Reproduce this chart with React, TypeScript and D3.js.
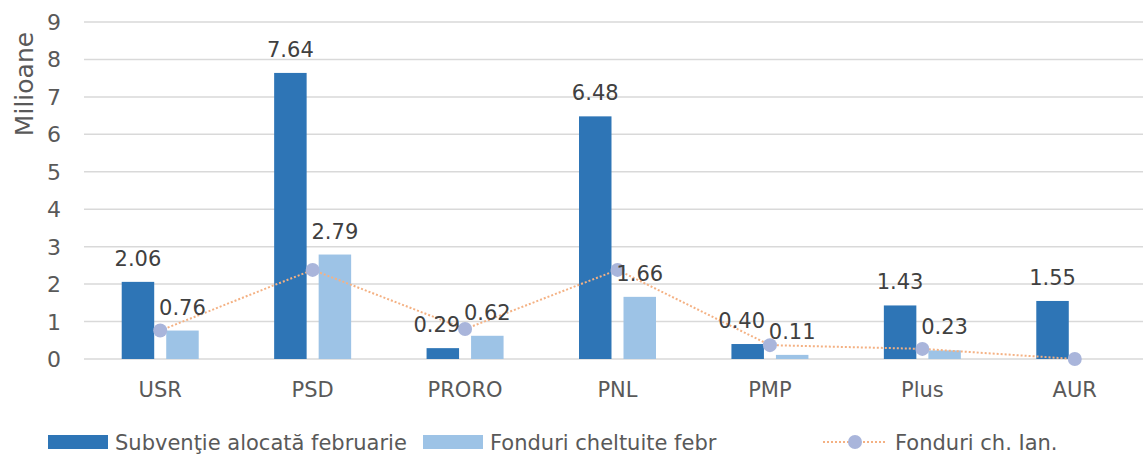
import React, { useRef, useEffect } from 'react';
import * as d3 from 'd3';

// party names on the x axis
const categories = ["USR", "PSD", "PRORO", "PNL", "PMP", "Plus", "AUR"];
// millions of lei
const subventie = [2.06, 7.64, 0.29, 6.48, 0.40, 1.43, 1.55];
const cheltuite = [0.76, 2.79, 0.62, 1.66, 0.11, 0.23, null];
const fonduriIan = [0.76, 2.38, 0.80, 2.38, 0.37, 0.27, 0.0];
const yTicks = [0, 1, 2, 3, 4, 5, 6, 7, 8, 9];

const seriesNames = ["Subvenţie alocată februarie", "Fonduri cheltuite febr", "Fonduri ch. Ian."];
const colors = ["#2E75B6", "#9DC3E6", "#F4B183", "#A9B5DB"];

const W = 1143, H = 454;
const FONT = "'DejaVu Sans', Verdana, sans-serif";

const App = () => {
    const ref = useRef<SVGSVGElement | null>(null);

    useEffect(() => {
        const svg = d3.select(ref.current);
        svg.selectAll("*").remove();

        const x = d3.scaleBand().domain(categories).range([84, 1151]).padding(0);
        const y = d3.scaleLinear().domain([0, 9]).range([359, 22]);
        // two bars inside each band
        const groupW = 77;
        const x1 = d3.scaleBand().domain(["a", "b"]).range([0, groupW]).paddingInner(0.27);

        // gridlines
        svg.append("g").selectAll("line").data(yTicks).enter().append("line")
            .attr("x1", 84).attr("x2", 1151)
            .attr("y1", d => y(d)).attr("y2", d => y(d))
            .style("stroke", "#D9D9D9").style("stroke-width", 1.5);

        // y tick labels
        svg.append("g").selectAll("text").data(yTicks).enter().append("text")
            .attr("x", 61).attr("y", d => y(d) + 8)
            .attr("text-anchor", "end")
            .style("font-family", FONT).style("font-size", "22px").style("fill", "#595959")
            .text(d => d);

        // axis title
        svg.append("text")
            .attr("transform", "translate(33,84) rotate(-90)")
            .attr("text-anchor", "middle")
            .style("font-family", FONT).style("font-size", "25px").style("fill", "#595959")
            .text("Milioane");

        const g = svg.append("g");
        const left = (c: string) => x(c)! + (x.bandwidth() - groupW) / 2;

        // dark bars
        g.selectAll(".a").data(subventie).enter().append("rect")
            .attr("x", (d, i) => left(categories[i]) + x1("a")!)
            .attr("y", d => y(d)).attr("width", x1.bandwidth())
            .attr("height", d => y(0) - y(d))
            .style("fill", colors[0]);

        // light bars
        g.selectAll(".b").data(cheltuite).enter().append("rect")
            .attr("x", (d, i) => left(categories[i]) + x1("b")!)
            .attr("y", d => y(d ?? 0)).attr("width", x1.bandwidth())
            .attr("height", d => y(0) - y(d ?? 0))
            .style("fill", colors[1]);

        // dotted line + markers
        const line = d3.line<number>()
            .x((d, i) => x(categories[i])! + x.bandwidth() / 2)
            .y(d => y(d));
        g.append("path").datum(fonduriIan)
            .attr("d", line)
            .style("fill", "none").style("stroke", colors[2])
            .style("stroke-width", 2).style("stroke-dasharray", "2,2");
        g.selectAll(".dot").data(fonduriIan).enter().append("circle")
            .attr("cx", (d, i) => x(categories[i])! + x.bandwidth() / 2)
            .attr("cy", d => y(d)).attr("r", 7)
            .style("fill", colors[3]);

        // data labels
        const labelStyle = (s) => s.attr("text-anchor", "middle")
            .style("font-family", FONT).style("font-size", "21px").style("fill", "#404040");
        g.selectAll(".la").data(subventie).enter().append("text")
            .attr("x", (d, i) => left(categories[i]) + x1("a")! + x1.bandwidth() / 2 - (d < 0.5 ? 6 : 0))
            .attr("y", d => y(d) - 16)
            .call(labelStyle)
            .text(d => d.toFixed(2));
        g.selectAll(".lb").data(cheltuite.map((v, i) => ({ v, i })).filter(d => d.v !== null)).enter().append("text")
            .attr("x", d => left(categories[d.i]) + x1("b")! + x1.bandwidth() / 2)
            .attr("y", d => y(d.v) - 16)
            .call(labelStyle)
            .text(d => d.v.toFixed(2));

        // x labels
        svg.append("g").selectAll("text").data(categories).enter().append("text")
            .attr("x", d => x(d)! + x.bandwidth() / 2).attr("y", 397)
            .attr("text-anchor", "middle")
            .style("font-family", FONT).style("font-size", "21px").style("fill", "#595959")
            .text(d => d);

        // legend
        const lg = svg.append("g");
        const ly = 442;
        lg.append("rect").attr("x", 48).attr("y", ly - 7).attr("width", 60).attr("height", 14).style("fill", colors[0]);
        lg.append("text").attr("x", 115).attr("y", ly + 8).text(seriesNames[0]);
        lg.append("rect").attr("x", 423).attr("y", ly - 7).attr("width", 60).attr("height", 14).style("fill", colors[1]);
        lg.append("text").attr("x", 490).attr("y", ly + 8).text(seriesNames[1]);
        lg.append("line").attr("x1", 823).attr("x2", 887).attr("y1", ly).attr("y2", ly)
            .style("stroke", colors[2]).style("stroke-width", 2).style("stroke-dasharray", "2,2");
        lg.append("circle").attr("cx", 855).attr("cy", ly).attr("r", 7).style("fill", colors[3]);
        lg.append("text").attr("x", 895).attr("y", ly + 8).text(seriesNames[2]);
        lg.selectAll("text").style("font-family", FONT).style("font-size", "21px").style("fill", "#595959");
    }, []);

    return <svg ref={ref} width={W} height={H} style={{ position: "absolute", left: 0, top: 0, background: "#fff" }} />;
};

export default App;
